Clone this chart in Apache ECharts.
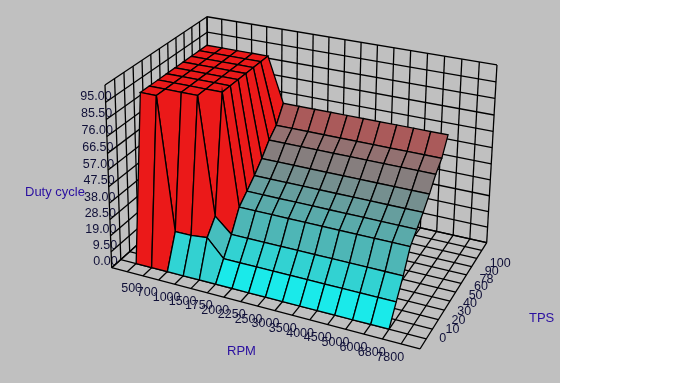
<!DOCTYPE html>
<html>
<head>
<meta charset="utf-8">
<style>
  html, body { margin: 0; padding: 0; background: #fff; }
  #chart { width: 560px; height: 383px; }
</style>
<script src="https://cdn.jsdelivr.net/npm/echarts@6/dist/echarts.min.js"></script>
</head>
<body>
<div id="chart"></div>
<script>
// tick labels
const rpmLabels = ['500','700','1000','1500','1750','2000','2250','2500','3000','3500','4000','4500','5000','6000','6800','7800'];
const tpsLabels = ['0','10','20','30','40','50','60','78','90','100'];
const dutyLabels = ['0.00','9.50','19.00','28.50','38.00','47.50','57.00','66.50','76.00','85.50','95.00'];

// duty cycle, one row per TPS label, one value per RPM label
const duty0 = [0,0,0,0,0,0,0,0,0,0,0,0,0,0,0,0];
const duty1 = [95,95,19,19,20,10,10,10,10,10,10,10,10,10,10,10];
const duty2 = [95,95,95,95,28,19.5,19.5,19.5,19.5,19.5,19.5,19.5,19.5,19.5,19.5,19.5];
const duty3 = [95,95,95,95,95,31,31,31,31,31,31,31,31,31,31,31];
const duty4 = [95,95,95,95,95,36,36,36,36,36,36,36,36,36,36,36];
const duty5 = [95,95,95,95,95,41,41,41,41,41,41,41,41,41,41,41];
const duty6 = [95,95,95,95,95,47,47,47,47,47,47,47,47,47,47,47];
const duty7 = [95,95,95,95,95,54,54,54,54,54,54,54,54,54,54,54];
const duty8 = [95,95,95,95,95,59,59,59,59,59,59,59,59,59,59,59];
const duty9 = [95,95,95,95,95,68.5,68.5,68.5,68.5,68.5,68.5,68.5,68.5,68.5,68.5,68.5];
const dutyRows = [duty0,duty1,duty2,duty3,duty4,duty5,duty6,duty7,duty8,duty9];

// box is 18 x 12 x 11 cells, table starts one cell in on both floor axes
const cellsX = 18, cellsY = 12, cellsZ = 11;
const dutyStep = 9.5;

// perspective fitted to the box corners
function project(ix, iy, iz) {
  const x = ix / cellsX, y = iy / cellsY, z = iz / cellsZ;
  const w = 1 - 0.1011 * x + 0.1342 * y - 0.0442 * z;
  return [
    (111.7 + 265.8 * x + 125.3 * y - 11.35 * z) / w,
    (267.7 + 46.0 * x - 62.98 * y - 186.46 * z) / w
  ];
}

function cellColor(maxDuty) {
  const t = Math.min(1, Math.max(0, (maxDuty - 9.5) / 85.5));
  const r = Math.round(25 + 210 * t), gb = Math.round(235 - 210 * t);
  return `rgb(${r},${gb},${gb})`;
}

// wall and floor lines first, then surface cells from the back row forward
function boxLines() {
  const lines = [];
  for (let i = 0; i <= cellsX; i++) {
    lines.push([[i, 0, 0], [i, cellsY, 0]]);
    lines.push([[i, cellsY, 0], [i, cellsY, cellsZ]]);
  }
  for (let j = 0; j <= cellsY; j++) {
    lines.push([[0, j, 0], [cellsX, j, 0]]);
    lines.push([[0, j, 0], [0, j, cellsZ]]);
  }
  for (let k = 0; k <= cellsZ; k++) {
    lines.push([[0, 0, k], [0, cellsY, k]]);
    lines.push([[0, cellsY, k], [cellsX, cellsY, k]]);
  }
  return lines;
}

const surfaceCells = [];
for (let r = tpsLabels.length - 2; r >= 0; r--) {
  for (let c = 0; c < rpmLabels.length - 1; c++) {
    surfaceCells.push([c, r]);
  }
}

function surfacePoint(c, r) {
  return project(c + 1, r + 1, dutyRows[r][c] / dutyStep);
}

const chart = echarts.init(document.getElementById('chart'));
const tickFont = '12.5px "Liberation Sans", Arial, sans-serif';
const titleFont = '13px "Liberation Sans", Arial, sans-serif';

chart.setOption({
  backgroundColor: '#c0c0c0',
  animation: false,
  series: [
    {
      type: 'custom',
      coordinateSystem: 'none',
      silent: true,
      data: boxLines(),
      renderItem: (params) => {
        const seg = boxLines()[params.dataIndex];
        const a = project(seg[0][0], seg[0][1], seg[0][2]);
        const b = project(seg[1][0], seg[1][1], seg[1][2]);
        return {
          type: 'line',
          shape: { x1: a[0], y1: a[1], x2: b[0], y2: b[1] },
          style: { stroke: '#000', lineWidth: 1.3 }
        };
      }
    },
    {
      type: 'custom',
      coordinateSystem: 'none',
      silent: true,
      data: surfaceCells,
      renderItem: (params) => {
        const [c, r] = surfaceCells[params.dataIndex];
        const maxDuty = Math.max(dutyRows[r][c], dutyRows[r][c + 1], dutyRows[r + 1][c], dutyRows[r + 1][c + 1]);
        return {
          type: 'polygon',
          shape: { points: [surfacePoint(c, r), surfacePoint(c + 1, r), surfacePoint(c + 1, r + 1), surfacePoint(c, r + 1)] },
          style: { fill: cellColor(maxDuty), stroke: '#000', lineWidth: 1.3 }
        };
      }
    }
  ],
  graphic: [
    ...dutyLabels.map((label, i) => {
      const p = project(0, 0, i);
      return { type: 'text', x: p[0] + 6, y: p[1] - 6, style: { text: label, font: tickFont, fill: '#101038', align: 'right', verticalAlign: 'middle' } };
    }),
    ...rpmLabels.map((label, i) => {
      const p = project(i + 1, 0, 0);
      return { type: 'text', x: p[0] - 6, y: p[1] + 17 + i * 0.1, style: { text: label, font: tickFont, fill: '#101038', align: 'left', verticalAlign: 'middle' } };
    }),
    ...tpsLabels.map((label, i) => {
      const p = project(cellsX, i + 1, 0);
      return { type: 'text', x: p[0] + 13, y: p[1] + i * 0.6, style: { text: label, font: tickFont, fill: '#101038', align: 'left', verticalAlign: 'middle' } };
    }),
    { type: 'text', x: 25, y: 192, style: { text: 'Duty cycle', font: titleFont, fill: '#2a0fa0', verticalAlign: 'middle' } },
    { type: 'text', x: 227, y: 351, style: { text: 'RPM', font: titleFont, fill: '#2a0fa0', verticalAlign: 'middle' } },
    { type: 'text', x: 529, y: 318, style: { text: 'TPS', font: titleFont, fill: '#2a0fa0', verticalAlign: 'middle' } }
  ]
});
</script>
</body>
</html>
